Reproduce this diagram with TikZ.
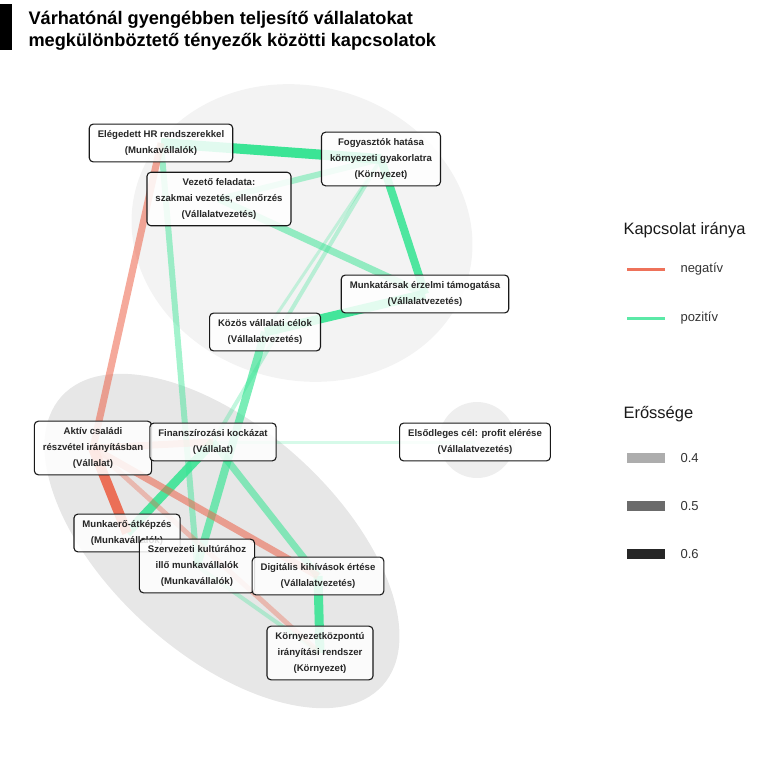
\documentclass[tikz,border=0pt]{standalone}
\usepackage{fontspec}
\setmainfont{Liberation Sans}
\usetikzlibrary{positioning}
\definecolor{negred}{RGB}{236,98,72}
\definecolor{posgreen}{RGB}{50,228,145}
\definecolor{blobA}{RGB}{243,243,243}
\definecolor{blobB}{RGB}{231,231,231}
\definecolor{blobC}{RGB}{238,238,238}
\pgfdeclarelayer{blobs}
\pgfdeclarelayer{links}
\pgfsetlayers{blobs,links,main}

\begin{document}
\begin{tikzpicture}[x=1pt,y=-1pt,
    box/.style={draw=black!90, line width=1.1pt, rounded corners=4pt, fill=white,
      fill opacity=.85, text opacity=1, align=center, inner xsep=8.5pt, inner ysep=6.5pt,
      font=\bfseries\fontsize{9.6}{15.8}\selectfont, text=black!85},
    plus/.style={draw=posgreen},
    minus/.style={draw=negred},
    link/.style n args={2}{line width=#1pt, draw opacity=#2},
    lgd/.style={font=\fontsize{13}{15}\selectfont, text=black!80, anchor=west},
    lgdtitle/.style={font=\fontsize{16.5}{18}\selectfont, text=black!90, anchor=west}]
   \useasboundingbox (0,0) rectangle (768,768);

   % title
   \fill (0,4) rectangle (12,50);
   \node[anchor=base west, font=\bfseries\fontsize{18.2}{22}\selectfont] (title1) at (25,25) {Várhatónál gyengébben teljesítő vállalatokat};
   \node[anchor=base west, font=\bfseries\fontsize{18.2}{22}\selectfont] (title2) at (25,47) {megkülönböztető tényezők közötti kapcsolatok};

   \node[box] (hr)        at (161,143) {Elégedett HR rendszerekkel\\(Munkavállalók)};
   \node[box] (fogy)      at (381,159) {Fogyasztók hatása\\környezeti gyakorlatra\\(Környezet)};
   \node[box] (vezeto)    at (219,199) {Vezető feladata:\\szakmai vezetés, ellenőrzés\\(Vállalatvezetés)};
   \node[box] (munkatars) at (425,294) {Munkatársak érzelmi támogatása\\(Vállalatvezetés)};
   \node[box] (kozos)     at (265,332) {Közös vállalati célok\\(Vállalatvezetés)};
   \node[box] (aktiv)     at (93,448)  {Aktív családi\\részvétel irányításban\\(Vállalat)};
   \node[box] (finansz)   at (213,442) {Finanszírozási kockázat\\(Vállalat)};
   \node[box] (profit)    at (475,442) {Elsődleges cél: profit elérése\\(Vállalatvezetés)};
   \node[box] (atkepzes)  at (127,533) {Munkaerő-átképzés\\(Munkavállalók)};
   \node[box] (kultura)   at (197,566) {Szervezeti kultúrához\\illő munkavállalók\\(Munkavállalók)};
   \node[box] (digitalis) at (318,576) {Digitális kihívások értése\\(Vállalatvezetés)};
   \node[box] (kornyezet) at (320,653) {Környezetközpontú\\irányítási rendszer\\(Környezet)};

   \begin{pgfonlayer}{blobs}
     \fill[blobA, rotate around={-15:(302,233)}] (302,233) ellipse [x radius=172, y radius=147];
     \fill[blobB, rotate around={-42:(222,541)}] (222,541) ellipse [x radius=216, y radius=113];
     \fill[blobC] (477,440) circle [radius=38];
   \end{pgfonlayer}

   \begin{pgfonlayer}{links}
   \path[line cap=butt]
    (hr.center)        edge[plus, link={10}{.95}] (fogy.center)
                       edge[plus, link={6}{.45}]  (kultura.center)
                       edge[minus, link={7}{.55}] (aktiv.center)
    (fogy.center)      edge[plus, link={8}{.85}]  (munkatars.center)
                       edge[plus, link={3}{.25}]  (kozos.center)
                       edge[plus, link={4}{.3}]   (finansz.center)
    (vezeto.center)    edge[plus, link={7}{.5}]   (munkatars.center)
                       edge[plus, link={6}{.4}]   (fogy.center)
    (kozos.center)     edge[plus, link={9}{.9}]   (munkatars.center)
                       edge[plus, link={8}{.65}]  (kultura.center)
    (finansz.center)   edge[plus, link={9}{.85}]  (atkepzes.center)
                       edge[plus, link={7}{.55}]  (digitalis.center)
                       edge[plus, link={3}{.2}]   (profit.center)
    (digitalis.center) edge[plus, link={9}{.85}]  (kornyezet.center)
    (kultura.center)   edge[plus, link={4}{.3}]   (kornyezet.center)
    (aktiv.center)     edge[minus, link={10}{.9}] (atkepzes.center)
                       edge[minus, link={7}{.45}] (finansz.center)
                       edge[minus, link={7}{.55}] (digitalis.center)
                       edge[minus, link={5}{.35}] (kornyezet.center);
   \end{pgfonlayer}

   % legend
   \node[lgdtitle] (irany) at (620,230) {Kapcsolat iránya};
   \draw[negred!90, line width=3pt] (627,269) -- (665,269);
   \node[lgd] (negativ) at (677,269) {negatív};
   \draw[posgreen!80, line width=3pt] (627,318) -- (665,318);
   \node[lgd] (pozitiv) at (677,318) {pozitív};
   \node[lgdtitle] (erosseg) at (620,414) {Erőssége};
   \fill[black!32] (627,453) rectangle (665,463);
   \node[lgd] (s4) at (677,458) {0.4};
   \fill[black!58] (627,501) rectangle (665,511);
   \node[lgd] (s5) at (677,506) {0.5};
   \fill[black!85] (627,549) rectangle (665,559);
   \node[lgd] (s6) at (677,554) {0.6};
\end{tikzpicture}
\end{document}
